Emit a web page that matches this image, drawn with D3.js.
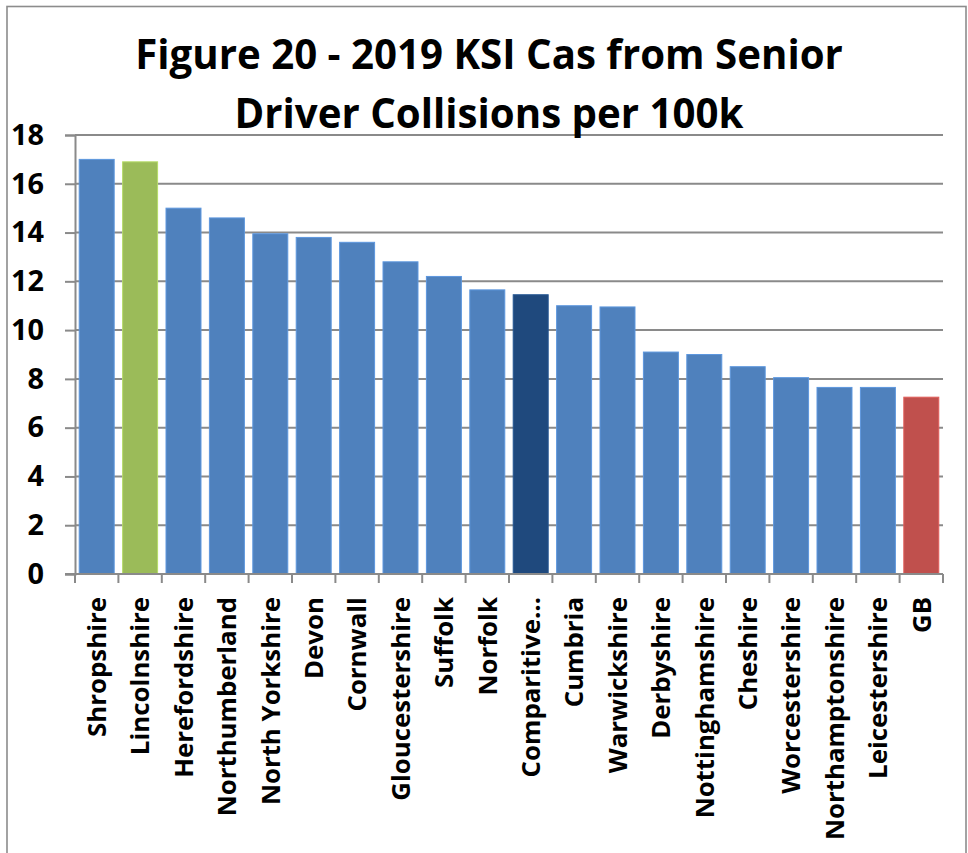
<!DOCTYPE html>
<html>
<head>
<meta charset="utf-8">
<script src="https://cdn.jsdelivr.net/npm/d3@7"></script>
<style>
  html, body { margin: 0; padding: 0; background: #fff; }
  svg { display: block; }
  text { font-family: "Open Sans", Lato, "Liberation Sans", sans-serif; font-weight: 700; fill: #000; }
</style>
</head>
<body>
<svg id="chart" width="968" height="853"></svg>
<script>
// KSI casualties from senior-driver collisions per 100k, 2019
const categories = [
  "Shropshire", "Lincolnshire", "Herefordshire", "Northumberland", "North Yorkshire",
  "Devon", "Cornwall", "Gloucestershire", "Suffolk", "Norfolk",
  "Comparitive…", "Cumbria", "Warwickshire", "Derbyshire", "Nottinghamshire",
  "Cheshire", "Worcestershire", "Northamptonshire", "Leicestershire", "GB"
];
const values = [
  17.0, 16.9, 15.0, 14.6, 13.95,
  13.8, 13.6, 12.8, 12.2, 11.65,
  11.45, 11.0, 10.95, 9.1, 9.0,
  8.5, 8.05, 7.65, 7.65, 7.25
];
const yTicks = [0, 2, 4, 6, 8, 10, 12, 14, 16, 18];
const titleLines = ["Figure 20 - 2019 KSI Cas from Senior", "Driver Collisions per 100k"];

const svg = d3.select("#chart");
const H = 853;
const plot = { left: 75, right: 943, top: 135, bottom: 574 };

// font size that makes a sample string take up a given width
function fitSize(sample, width) {
  const t = svg.append("text").style("font-size", "100px").text(sample);
  const w = t.node().getComputedTextLength();
  t.remove();
  return 100 * width / w;
}
const titleSize = fitSize(titleLines[0], 708);
const labelSize = fitSize("Northamptonshire", 243);
const tickSize = fitSize("18", 33);

// chart frame
svg.append("rect")
  .attr("x", 7).attr("y", 6.5)
  .attr("width", 959).attr("height", H + 20)
  .attr("fill", "#fff").attr("stroke", "#8c8c8c").attr("stroke-width", 1.6);

const x = d3.scaleBand()
  .domain(categories)
  .range([plot.left, plot.right])
  .paddingInner(0.194)
  .paddingOuter(0.097);

const y = d3.scaleLinear()
  .domain([0, 18])
  .range([plot.bottom, plot.top]);

// horizontal gridlines
svg.append("g")
  .selectAll("line")
  .data(yTicks.filter(t => t > 0))
  .join("line")
  .attr("x1", plot.left).attr("x2", plot.right)
  .attr("y1", d => y(d)).attr("y2", d => y(d))
  .attr("stroke", "#8a8a8a").attr("stroke-width", 2);

// y axis
const yAxis = svg.append("g")
  .attr("transform", `translate(${plot.left},0)`)
  .call(d3.axisLeft(y).tickValues(yTicks).tickSize(10).tickPadding(21).tickFormat(d3.format("d")));
yAxis.select(".domain").attr("stroke", "#8a8a8a").attr("stroke-width", 2);
yAxis.selectAll(".tick line").attr("stroke", "#8a8a8a").attr("stroke-width", 2);
yAxis.selectAll(".tick text")
  .style("font-family", "'Open Sans', Lato, sans-serif")
  .style("font-weight", 700)
  .style("font-size", tickSize + "px")
  .attr("fill", "#000");

// bars
const fillFor = name =>
  name === "Lincolnshire" ? "#9bbb59" :
  name === "Comparitive…" ? "#1f497d" :
  name === "GB" ? "#c0504d" : "#4f81bd";

svg.append("g")
  .selectAll("rect")
  .data(categories.map((c, i) => ({ c, v: values[i] })))
  .join("rect")
  .attr("x", d => x(d.c))
  .attr("width", x.bandwidth())
  .attr("y", d => y(d.v))
  .attr("height", d => y(0) - y(d.v))
  .attr("fill", d => fillFor(d.c))
  .attr("stroke", d => d3.color(fillFor(d.c)).brighter(0.45))
  .attr("stroke-width", 1);

// x axis with ticks at category boundaries
const boundaries = categories.map(c => x(c) - x.step() * x.paddingInner() / 2)
  .concat([plot.right]);
const xAxis = svg.append("g");
xAxis.append("line")
  .attr("x1", plot.left - 10).attr("x2", plot.right)
  .attr("y1", plot.bottom).attr("y2", plot.bottom)
  .attr("stroke", "#8a8a8a").attr("stroke-width", 2);
xAxis.selectAll("line.tk")
  .data(boundaries)
  .join("line")
  .attr("class", "tk")
  .attr("x1", d => d).attr("x2", d => d)
  .attr("y1", plot.bottom).attr("y2", plot.bottom + 9)
  .attr("stroke", "#8a8a8a").attr("stroke-width", 2);

// rotated category labels
svg.append("g")
  .selectAll("text")
  .data(categories)
  .join("text")
  .attr("transform", d => `translate(${x(d) + x.bandwidth() / 2},${plot.bottom + 23}) rotate(-90)`)
  .attr("text-anchor", "end")
  .attr("dy", "0.36em")
  .style("font-size", labelSize + "px")
  .text(d => d);

// title
svg.append("g")
  .selectAll("text")
  .data(titleLines)
  .join("text")
  .attr("x", 489)
  .attr("y", (d, i) => 69 + i * 59)
  .attr("text-anchor", "middle")
  .style("font-size", titleSize + "px")
  .text(d => d);
</script>
</body>
</html>
